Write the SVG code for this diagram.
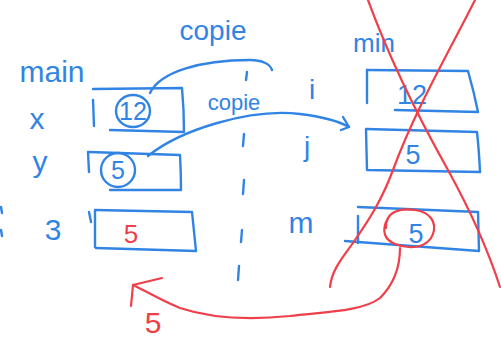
<svg xmlns="http://www.w3.org/2000/svg" width="501" height="338" viewBox="0 0 501 338">
  <style>
    .b { fill: none; stroke: #3184e4; stroke-width: 2.4; stroke-linecap: round; stroke-linejoin: round; }
    .r { fill: none; stroke: #ef3f4a; stroke-width: 2.2; stroke-linecap: round; stroke-linejoin: round; }
    .tb { fill: #3184e4; font-family: "Liberation Sans", "DejaVu Sans", sans-serif; }
    .tr { fill: #ef3f4a; font-family: "Liberation Sans", "DejaVu Sans", sans-serif; }
  </style>
  <rect width="501" height="338" fill="#ffffff"/>

  <!-- frame titles -->
  <text class="tb" x="213" y="40" font-size="28" text-anchor="middle">copie</text>
  <text class="tb" x="52" y="82" font-size="30" text-anchor="middle">main</text>
  <text class="tb" x="374" y="52" font-size="26" text-anchor="middle">min</text>

  <!-- dashed separator between frames -->
  <g id="separator">
    <path class="b" d="M247 72 L246 80"/>
    <path class="b" d="M244 134 L243 146"/>
    <path class="b" d="M244 180 L243 194"/>
    <path class="b" d="M242 230 L241 242"/>
    <path class="b" d="M239 266 L238 280"/>
  </g>

  <!-- main: x -->
  <g id="main-x">
    <text class="tb" x="37" y="129" font-size="30" text-anchor="middle">x</text>
    <path class="b" d="M93 89 L182 88 Q184 110 184 132 L110 130"/>
    <path class="b" d="M93 100 L94 126"/>
    <ellipse class="b" cx="133" cy="111" rx="17" ry="16"/>
    <text class="tb" x="133" y="120" font-size="25" text-anchor="middle">12</text>
  </g>

  <!-- main: y -->
  <g id="main-y">
    <text class="tb" x="40" y="172" font-size="30" text-anchor="middle">y</text>
    <path class="b" d="M89 152 L180 155 Q181 172 181 190 L110 190"/>
    <path class="b" d="M88 152 L89 172"/>
    <ellipse class="b" cx="118" cy="170" rx="17" ry="17"/>
    <text class="tb" x="118" y="179" font-size="25" text-anchor="middle">5</text>
  </g>

  <!-- main: 3 -->
  <g id="main-3">
    <path class="b" d="M1 207 L2 213"/>
    <path class="b" d="M1 230 L2 236"/>
    <text class="tb" x="53" y="240" font-size="30" text-anchor="middle">3</text>
    <path class="b" d="M95 210 L192 212 Q194 232 196 251 L96 248"/>
    <path class="b" d="M89 212 L91 222"/>
    <path class="b" d="M95 211 L95 247"/>
    <text class="tr" x="131" y="243" font-size="26" text-anchor="middle">5</text>
  </g>

  <!-- min: i -->
  <g id="min-i">
    <text class="tb" x="312" y="99" font-size="28" text-anchor="middle">i</text>
    <path class="b" d="M367 70 L468 71 Q474 92 478 112 L395 110"/>
    <path class="b" d="M367 70 L367 103"/>
    <text class="tb" x="412" y="104" font-size="27" text-anchor="middle">12</text>
  </g>

  <!-- min: j -->
  <g id="min-j">
    <text class="tb" x="307" y="156" font-size="28" text-anchor="middle">j</text>
    <path class="b" d="M366 129 L477 132 Q479 150 480 172"/>
    <path class="b" d="M366 130 L367 170 L480 172"/>
    <text class="tb" x="413" y="164" font-size="27" text-anchor="middle">5</text>
  </g>

  <!-- min: m -->
  <g id="min-m">
    <text class="tb" x="301" y="233" font-size="30" text-anchor="middle">m</text>
    <path class="b" d="M358 207 L478 212 L479 251 L358 242 L345 241"/>
    <path class="b" d="M358 216 L358 243"/>
    <text class="tb" x="416" y="243" font-size="27" text-anchor="middle">5</text>
    <path class="r" d="M386 228 C385 210 403 208 415 210 C430 212 437 222 433 234 C428 248 410 250 395 244 C385 240 382 232 386 222"/>
  </g>

  <!-- connectors -->
  <g id="connectors">
    <!-- x copied into i -->
    <path class="b" d="M150 93 C160 72 200 60 250 60 C262 60 270 64 272 70"/>
    <text class="tb" x="234" y="110" font-size="22" text-anchor="middle">copie</text>
    <!-- y copied into j -->
    <path class="b" d="M148 156 C180 130 250 108 300 114 C325 117 340 122 349 127"/>
    <path class="b" d="M343 117 L349 127 L341 130"/>
    <!-- min frame crossed out -->
    <path class="r" d="M368 0 C390 60 420 120 448 170 C470 210 488 250 500 287"/>
    <path class="r" d="M475 0 C450 50 415 110 393 170 C380 205 365 225 355 240 C345 255 332 268 330 287"/>
    <!-- value of m returned -->
    <path class="r" d="M400 248 C400 262 396 282 380 298 C362 312 320 312 290 316 C250 320 210 318 180 308 C160 300 148 292 133 285"/>
    <path class="r" d="M162 278 L133 285 L131 306"/>
    <text class="tr" x="153" y="333" font-size="30" text-anchor="middle">5</text>
  </g>
</svg>
